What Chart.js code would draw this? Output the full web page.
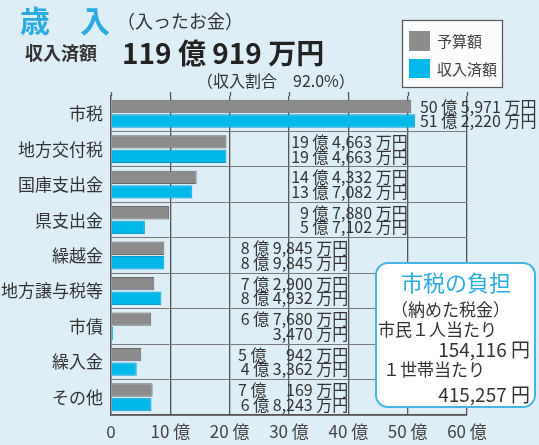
<!DOCTYPE html>
<html><head><meta charset="utf-8">
<script src="https://cdn.jsdelivr.net/npm/chart.js@4/dist/chart.umd.min.js"></script>
<style>
html,body{margin:0;padding:0;background:#ddeef7;}
#wrap{position:relative;width:539px;height:445px;overflow:hidden;font-family:"Noto Sans CJK JP","Noto Sans",sans-serif;color:#333;}
canvas{position:absolute;left:0;top:0;}
.t{position:absolute;white-space:nowrap;line-height:1;}
#box{position:absolute;left:375px;top:262px;width:157px;height:142px;background:#fff;border:2px solid #45b5e6;border-radius:13px;}
</style></head><body>
<div id="wrap">
<canvas id="c" width="539" height="445"></canvas>
<div class="t" style="left:20px;top:4px;font-size:30px;font-weight:bold;color:#29abe2">歳　入</div>
<div class="t" style="left:117px;top:11px;font-size:18px;color:#333">（入ったお金）</div>
<div class="t" style="left:25px;top:43px;font-size:18px;font-weight:bold;color:#333">収入済額</div>
<div class="t" style="left:122px;top:38px;font-size:28px;font-weight:bold;color:#222">119 億 919 万円</div>
<div class="t" style="left:197px;top:72px;font-size:16px;color:#333">（収入割合　92.0%）</div>
<div id="box"></div>
<div class="t" style="left:401px;top:270px;font-size:22px;color:#29abe2">市税の負担</div>
<div class="t" style="left:391px;top:300px;font-size:17px;color:#333">（納めた税金）</div>
<div class="t" style="left:378px;top:320px;font-size:17px;color:#333">市民１人当たり</div>
<div class="t" style="right:9px;top:339px;font-size:19px;color:#333">154,116 円</div>
<div class="t" style="left:383px;top:360px;font-size:17px;color:#333">１世帯当たり</div>
<div class="t" style="right:9px;top:384px;font-size:19px;color:#333">415,257 円</div>
</div>
<script>
const categories = ['市税','地方交付税','国庫支出金','県支出金','繰越金','地方譲与税等','市債','繰入金','その他'];
// values in 万円
const budgetMan   = [505971,194663,144332,97880,89845,72900,67680,50942,70169];
const receivedMan = [512220,194663,137082,57102,89845,84932,3470,43362,68243];
const seriesNames = ['予算額','収入済額'];
const xTicks = [0,10,20,30,40,50,60];

// layout: where value labels are right-aligned (axis units); null = after bar
const labelRightAt = [null,50,50,50,40,40,40,40,40];

const FONT = '"Noto Sans CJK JP","Noto Sans",sans-serif';
const GRAY = '#8c8c8c', BLUE = '#00b8ea';

function fmt(m){
  const oku = Math.floor(m/10000), rest = m%10000;
  let r = rest.toLocaleString('en-US');
  if (oku === 0) return r + ' 万円';
  if (rest < 1000) r = '\u3000' + r;
  return oku + ' 億 ' + r + ' 万円';
}

const overlay = {
  id:'overlay',
  afterDatasetsDraw(chart){
    const ctx = chart.ctx, xs = chart.scales.x, a = chart.chartArea;
    ctx.save();
    // top tick marks
    ctx.strokeStyle = '#555'; ctx.lineWidth = 1.3;
    xTicks.forEach(v=>{
      const x = Math.round(xs.getPixelForValue(v))+0.5;
      ctx.beginPath(); ctx.moveTo(x, a.top-4); ctx.lineTo(x, a.top); ctx.stroke();
    });
    // value labels
    ctx.font = '16px ' + FONT; ctx.fillStyle = '#333'; ctx.textBaseline = 'middle';
    const m0 = chart.getDatasetMeta(0), m1 = chart.getDatasetMeta(1);
    categories.forEach((c,i)=>{
      const e0 = m0.data[i], e1 = m1.data[i];
      let x, align;
      if (labelRightAt[i] === null){ x = Math.max(e0.x, e1.x) + 5; align = 'left'; }
      else { x = xs.getPixelForValue(labelRightAt[i]); align = 'right'; }
      ctx.textAlign = align;
      ctx.fillText(fmt(budgetMan[i]), x, e0.y);
      ctx.fillText(fmt(receivedMan[i]), x, e1.y);
    });
    // legend
    ctx.fillStyle = '#fbfcfd'; ctx.fillRect(402,20,101,67);
    ctx.strokeStyle = '#555'; ctx.lineWidth = 1.2; ctx.strokeRect(402.5,20.5,100,67);
    ctx.fillStyle = GRAY; ctx.fillRect(409,31,21,20);
    ctx.fillStyle = BLUE; ctx.fillRect(409,59,21,19);
    ctx.fillStyle = '#444'; ctx.font = '15px ' + FONT; ctx.textAlign = 'left';
    ctx.fillText(seriesNames[0], 437, 41);
    ctx.fillText(seriesNames[1], 437, 69);
    ctx.restore();
  }
};

new Chart(document.getElementById('c'), {
  type:'bar',
  data:{
    labels: categories,
    datasets:[
      {label:seriesNames[0], data: budgetMan.map(v=>v/10000), backgroundColor:GRAY, borderColor:'#6a6a6a', borderWidth:1, barPercentage:0.92, categoryPercentage:0.82},
      {label:seriesNames[1], data: receivedMan.map(v=>v/10000), backgroundColor:BLUE, borderColor:'#0a9ccc', borderWidth:1, barPercentage:0.92, categoryPercentage:0.82}
    ]
  },
  options:{
    indexAxis:'y', responsive:false, animation:false,
    layout:{padding:{top:96,right:72,bottom:0,left:0}},
    plugins:{legend:{display:false}, tooltip:{enabled:false}},
    scales:{
      x:{type:'linear', min:0, max:60, position:'bottom',
        afterBuildTicks:s=>{ s.ticks = xTicks.map(v=>({value:v})); },
        ticks:{callback:v=> v===0 ? '0' : v+' 億', font:{size:17,family:FONT}, color:'#444', padding:6, maxRotation:0, autoSkip:false},
        grid:{color:'#555', lineWidth:1.3, drawTicks:false},
        border:{display:true, color:'#555', width:1.3},
        afterFit:s=>{ s.height = 30; }
      },
      y:{type:'category', position:'left',
        ticks:{font:{size:17,family:FONT}, color:'#333', padding:8},
        grid:{offset:true, drawTicks:false, color:c=> c.index===0 ? 'rgba(0,0,0,0)' : '#7a7a7a', lineWidth:1},
        border:{display:true, color:'#555', width:1.3},
        afterFit:s=>{ s.width = 111; }
      }
    }
  },
  plugins:[overlay]
});
</script>
</body></html>
